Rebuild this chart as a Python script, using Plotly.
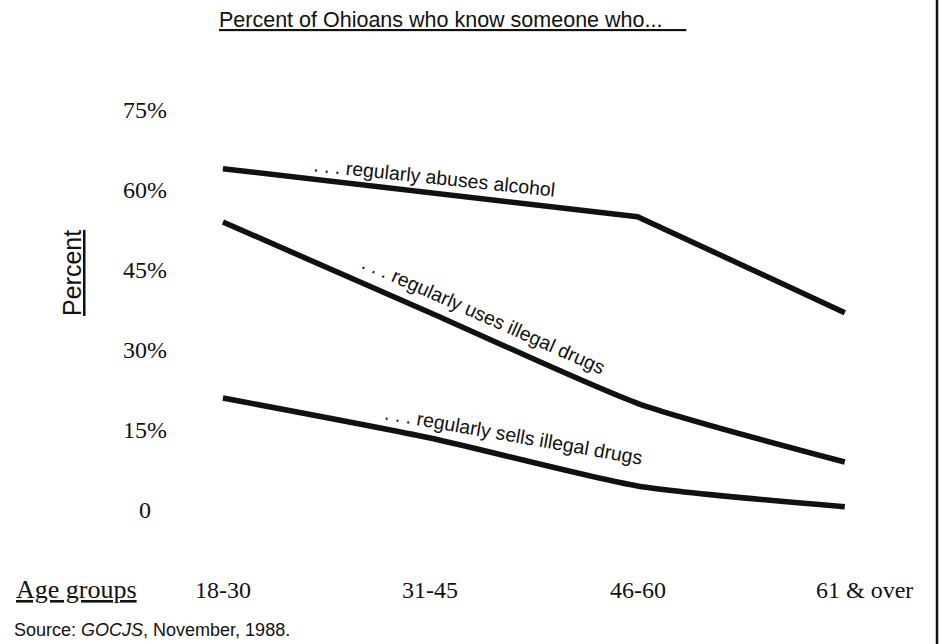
import plotly.graph_objects as go

# age groups on the x axis
age_groups = ["18-30", "31-45", "46-60", "61 & over"]

# percent of Ohioans who know someone who...
abuses_alcohol = [64, 59.5, 55, 37]
uses_drugs = [54, 37, 20, 9]
sells_drugs = [21, 13.5, 4.5, 0.6]

y_ticks = [0, 15, 30, 45, 60, 75]
y_tick_text = ["0", "15%", "30%", "45%", "60%", "75%"]

SERIF = "Liberation Serif, Times New Roman, serif"
SANS = "Liberation Sans, Arial, Helvetica, sans-serif"
INK = "#111111"

xs = list(range(len(age_groups)))

fig = go.Figure()

# ---------------------------- the three lines ---------------------------- #
fig.add_trace(go.Scatter(x=xs, y=abuses_alcohol, mode="lines",
                         line=dict(color=INK, width=5.5),
                         hoverinfo="skip"))
fig.add_trace(go.Scatter(x=xs, y=uses_drugs, mode="lines",
                         line=dict(color=INK, width=5.5,
                                   shape="spline", smoothing=0.6),
                         hoverinfo="skip"))
fig.add_trace(go.Scatter(x=xs, y=sells_drugs, mode="lines",
                         line=dict(color=INK, width=5.5,
                                   shape="spline", smoothing=0.6),
                         hoverinfo="skip"))

annotations = []

# inline labels along the lines
line_labels = [
    (". . . regularly abuses alcohol", 1.02, 62.4, 6),
    (". . . regularly uses illegal drugs", 1.26, 36.6, 24),
    (". . . regularly sells illegal drugs", 1.40, 14.0, 10),
]
for txt, lx, ly, ang in line_labels:
    annotations.append(dict(x=lx, y=ly, xref="x", yref="y", text=txt,
                            showarrow=False, textangle=ang,
                            font=dict(family=SANS, size=19.5, color=INK)))

# y tick labels, centred like the original
for v, t in zip(y_ticks, y_tick_text):
    annotations.append(dict(x=0.0578, y=v, xref="paper", yref="y", text=t,
                            showarrow=False, xanchor="center", yanchor="middle",
                            font=dict(family=SERIF, size=24, color=INK)))

# x category labels
for i, g in enumerate(age_groups):
    annotations.append(dict(x=i, y=-0.136, xref="x", yref="paper", text=g,
                            showarrow=False, xanchor="center", yanchor="middle",
                            xshift=20 if i == len(age_groups) - 1 else 0,
                            font=dict(family=SERIF, size=24, color=INK)))

# axis captions, title and source (positions: page px -> paper)
annotations += [
    dict(x=(76 - 100) / 779, y=-0.136, xref="paper", yref="paper",
         text="<u>Age groups</u>", showarrow=False, xanchor="center",
         yanchor="middle", font=dict(family=SERIF, size=26, color=INK)),
    dict(x=(72 - 100) / 779, y=(530 - 273) / 440, xref="paper", yref="paper",
         text="<u>Percent</u>", showarrow=False, textangle=-90,
         xanchor="center", yanchor="middle",
         font=dict(family=SANS, size=25, color=INK)),
    dict(x=(452 - 100) / 779, y=(530 - 20) / 440, xref="paper", yref="paper",
         text="<u>Percent of Ohioans who know someone who...&nbsp;&nbsp;&nbsp;&nbsp;</u>",
         showarrow=False, xanchor="center", yanchor="middle",
         font=dict(family=SANS, size=21.5, color=INK)),
    dict(x=(12 - 100) / 779, y=(530 - 630) / 440, xref="paper", yref="paper",
         text="Source: <i>GOCJS</i>, November, 1988.", showarrow=False,
         xanchor="left", yanchor="middle",
         font=dict(family=SANS, size=18, color=INK)),
]

# right edge border of the scanned page
shapes = [dict(type="line", xref="paper", yref="paper",
               x0=(937 - 100) / 779, x1=(937 - 100) / 779,
               y0=(530 - 644) / 440, y1=(530 - 0) / 440,
               line=dict(color=INK, width=2.5))]

fig.update_layout(
    width=939, height=644,
    margin=dict(l=100, r=60, t=90, b=114),
    paper_bgcolor="white", plot_bgcolor="white",
    showlegend=False,
    xaxis=dict(range=[-0.593, 3.165], showgrid=False, zeroline=False,
               showticklabels=False, showline=False, fixedrange=True),
    yaxis=dict(range=[-3.75, 78.75], showgrid=False, zeroline=False,
               showticklabels=False, showline=False, fixedrange=True),
    annotations=annotations,
    shapes=shapes,
)

# drop the default 8px body margin so the figure fills the window exactly
fig.write_html("out.html",
               config={"displayModeBar": False},
               post_script="document.body.style.margin='0';"
                           "document.body.style.overflow='hidden';")
